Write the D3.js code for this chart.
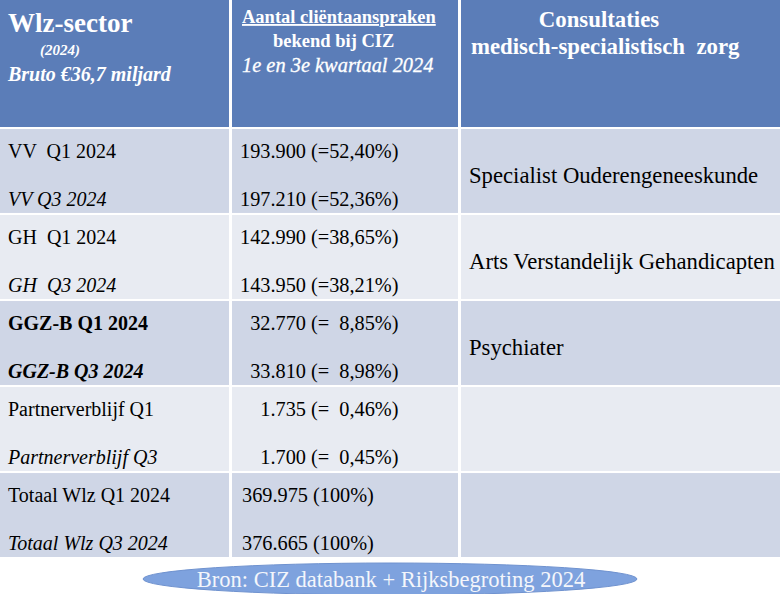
<!DOCTYPE html>
<html>
<head>
<meta charset="utf-8">
<script src="https://cdn.jsdelivr.net/npm/d3@7"></script>
<style>
	body { margin: 0; background: #fff; }
	svg text { font-family: "Liberation Serif", "Times New Roman", serif; white-space: pre; }
</style>
</head>
<body>
<div class="chart__table"></div>
<script>
(function() {

	// DATA
	var sectors = ['VV', 'GH', 'GGZ-B', 'Partnerverblijf', 'Totaal Wlz'];
	var labelsQ1 = ['VV  Q1 2024', 'GH  Q1 2024', 'GGZ-B Q1 2024', 'Partnerverblijf Q1', 'Totaal Wlz Q1 2024'];
	var labelsQ3 = ['VV Q3 2024', 'GH  Q3 2024', 'GGZ-B Q3 2024', 'Partnerverblijf Q3', 'Totaal Wlz Q3 2024'];
	var valuesQ1 = [193900, 142990, 32770, 1735, 369975];
	var valuesQ3 = [197210, 143950, 33810, 1700, 376665];
	var pctQ1 = [52.40, 38.65, 8.85, 0.46, 100];
	var pctQ3 = [52.36, 38.21, 8.98, 0.45, 100];
	var consultaties = ['Specialist Ouderengeneeskunde', 'Arts Verstandelijk Gehandicapten', 'Psychiater', '', ''];
	var boldRows = ['GGZ-B'];
	var bron = 'Bron: CIZ databank + Rijksbegroting 2024';

	// VARS
	var width = 780;
	var height = 594;
	var headerH = 127;
	var gap = 2;
	var cols = [{x0: 0, x1: 229}, {x0: 232, x1: 458}, {x0: 461, x1: 780}];
	var colors = {header: '#5b7db8', odd: '#cfd6e6', even: '#e8ebf2', ellipse: '#7ea2de'};

	var nl = d3.formatLocale({decimal: ',', thousands: '.', grouping: [3], currency: ['€', '']});
	var fmtNum = nl.format(',d');
	var fmtPct = nl.format('.2f');

	function pctText(p) {
		if (p >= 100) return '(100%)';
		var s = fmtPct(p);
		return '(=' + (p < 10 ? '  ' : '') + s + '%)';
	}

	var svg = d3.select('.chart__table').append('svg')
		.attr('width', width)
		.attr('height', height);

	var y = d3.scaleBand()
		.domain(sectors)
		.range([headerH + gap, 557])
		.paddingInner(0.024);

	// HEADER
	var header = svg.append('g').attr('class', 'header');
	header.selectAll('rect')
		.data(cols)
		.enter().append('rect')
		.attr('x', function(d) { return d.x0; })
		.attr('y', 0)
		.attr('width', function(d) { return d.x1 - d.x0; })
		.attr('height', headerH)
		.attr('fill', colors.header);

	header.append('text').attr('x', 8).attr('y', 32)
		.attr('fill', '#fff').attr('font-size', 27).attr('font-weight', 'bold')
		.text('Wlz-sector');
	header.append('text').attr('x', 40).attr('y', 55)
		.attr('fill', '#fff').attr('font-size', 15).attr('font-weight', 'bold').attr('font-style', 'italic')
		.text('(2024)');
	header.append('text').attr('x', 8).attr('y', 81)
		.attr('fill', '#fff').attr('font-size', 20).attr('font-weight', 'bold').attr('font-style', 'italic')
		.text('Bruto €36,7 miljard');

	header.append('text').attr('x', 242).attr('y', 23)
		.attr('fill', '#fff').attr('font-size', 18.5).attr('font-weight', 'bold')
		.attr('text-decoration', 'underline')
		.text('Aantal cliëntaanspraken');
	header.append('text').attr('x', 273).attr('y', 47)
		.attr('fill', '#fff').attr('font-size', 18.5).attr('font-weight', 'bold')
		.text('bekend bij CIZ');
	header.append('text').attr('x', 242).attr('y', 72)
		.attr('fill', '#fff').attr('font-size', 20.4).attr('font-style', 'italic')
		.attr('stroke', '#fff').attr('stroke-width', 0.3)
		.text('1e en 3e kwartaal 2024');

	header.append('text').attr('x', 599).attr('y', 27)
		.attr('text-anchor', 'middle')
		.attr('fill', '#fff').attr('font-size', 22.8).attr('font-weight', 'bold')
		.text('Consultaties');
	header.append('text').attr('x', 471).attr('y', 54)
		.attr('fill', '#fff').attr('font-size', 22.8).attr('font-weight', 'bold')
		.text('medisch-specialistisch  zorg');

	// BODY ROWS
	var rows = svg.selectAll('.row')
		.data(sectors)
		.enter().append('g')
		.attr('class', 'row')
		.attr('transform', function(d) { return 'translate(0,' + y(d) + ')'; });

	rows.each(function(d, i) {
		var g = d3.select(this);
		var fill = i % 2 === 0 ? colors.odd : colors.even;
		var bold = boldRows.indexOf(d) >= 0 ? 'bold' : 'normal';

		g.selectAll('rect')
			.data(cols)
			.enter().append('rect')
			.attr('x', function(c) { return c.x0; })
			.attr('width', function(c) { return c.x1 - c.x0; })
			.attr('height', y.bandwidth())
			.attr('fill', fill);

		g.append('text').attr('x', 8).attr('y', 29)
			.attr('font-size', 20).attr('font-weight', bold)
			.text(labelsQ1[i]);
		g.append('text').attr('x', 8).attr('y', 77)
			.attr('font-size', 20).attr('font-weight', bold).attr('font-style', 'italic')
			.text(labelsQ3[i]);

		var total = pctQ1[i] >= 100;
		[[valuesQ1[i], pctQ1[i], 29], [valuesQ3[i], pctQ3[i], 77]].forEach(function(v) {
			var t = g.append('text').attr('y', v[2]).attr('font-size', 20.3);
			if (total) {
				t.attr('x', 242).text(fmtNum(v[0]) + ' ' + pctText(v[1]));
			} else {
				g.append('text').attr('x', 306).attr('y', v[2]).attr('font-size', 20.3)
					.attr('text-anchor', 'end').text(fmtNum(v[0]));
				t.attr('x', 311).text(pctText(v[1]));
			}
		});

		g.append('text').attr('x', 469).attr('y', 54)
			.attr('font-size', 22.7)
			.text(consultaties[i]);
	});

	// SOURCE
	svg.append('ellipse')
		.attr('cx', 390).attr('cy', 579)
		.attr('rx', 247).attr('ry', 16)
		.attr('fill', colors.ellipse)
		.attr('stroke', '#6f92cf').attr('stroke-width', 1);
	svg.append('text').attr('x', 391).attr('y', 587)
		.attr('text-anchor', 'middle')
		.attr('fill', '#f4f6fb').attr('font-size', 22.5)
		.text(bron);
})()
</script>
</body>
</html>
